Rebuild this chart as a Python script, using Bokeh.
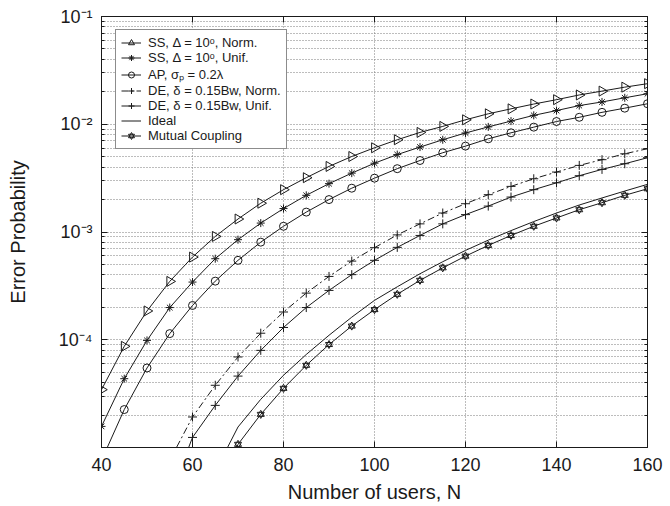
import numpy as np
from bokeh.plotting import figure
from bokeh.models import (FixedTicker, LogAxis, LinearAxis, Legend, LegendItem,
                          Range1d, CustomJSTickFormatter)
from bokeh.embed import file_html
from bokeh.resources import INLINE

# ---------------- data ----------------
users = [40, 45, 50, 55, 60, 65, 70, 75, 80, 85, 90, 95, 100,
         105, 110, 115, 120, 125, 130, 135, 140, 145, 150, 155, 160]

ss_norm = [3.44e-5, 8.69e-5, 1.85e-4, 3.48e-4, 5.85e-4, 9.1e-4, 1.32e-3, 1.85e-3,
           2.47e-3, 3.19e-3, 4.06e-3, 5.02e-3, 6.05e-3, 7.18e-3, 8.4e-3, 9.55e-3,
           1.10e-2, 1.25e-2, 1.39e-2, 1.54e-2, 1.69e-2, 1.87e-2, 2.03e-2, 2.21e-2, 2.38e-2]

ss_unif = [1.57e-5, 4.35e-5, 9.86e-5, 1.99e-4, 3.43e-4, 5.65e-4, 8.49e-4, 1.21e-3,
           1.65e-3, 2.19e-3, 2.81e-3, 3.52e-3, 4.35e-3, 5.23e-3, 6.14e-3, 7.18e-3,
           8.3e-3, 9.45e-3, 1.07e-2, 1.21e-2, 1.34e-2, 1.49e-2, 1.61e-2, 1.76e-2, 1.92e-2]

ap = [7.6e-6, 2.25e-5, 5.47e-5, 1.14e-4, 2.08e-4, 3.50e-4, 5.46e-4, 8.05e-4,
      1.13e-3, 1.53e-3, 2.0e-3, 2.55e-3, 3.16e-3, 3.87e-3, 4.61e-3, 5.44e-3,
      6.27e-3, 7.33e-3, 8.33e-3, 9.40e-3, 1.06e-2, 1.16e-2, 1.29e-2, 1.41e-2, 1.55e-2]

users_de = [55, 60, 65, 70, 75, 80, 85, 90, 95, 100, 105, 110, 115,
            120, 125, 130, 135, 140, 145, 150, 155, 160]

de_norm = [7.6e-6, 1.92e-5, 3.78e-5, 6.92e-5, 1.15e-4, 1.81e-4, 2.71e-4, 3.87e-4,
           5.37e-4, 7.15e-4, 9.4e-4, 1.19e-3, 1.50e-3, 1.83e-3, 2.22e-3, 2.65e-3,
           3.12e-3, 3.60e-3, 4.15e-3, 4.69e-3, 5.32e-3, 5.93e-3]

de_unif = [3.5e-6, 1.24e-5, 2.46e-5, 4.60e-5, 7.97e-5, 1.30e-4, 1.99e-4, 2.87e-4,
           4.02e-4, 5.46e-4, 7.2e-4, 9.29e-4, 1.19e-3, 1.45e-3, 1.74e-3, 2.11e-3,
           2.47e-3, 2.86e-3, 3.33e-3, 3.81e-3, 4.30e-3, 4.89e-3]

users_mc = [65, 70, 75, 80, 85, 90, 95, 100, 105, 110, 115, 120,
            125, 130, 135, 140, 145, 150, 155, 160]

ideal = [6.0e-6, 1.55e-5, 2.8e-5, 4.68e-5, 7.3e-5, 1.10e-4, 1.62e-4, 2.32e-4,
         3.1e-4, 4.1e-4, 5.3e-4, 6.75e-4, 8.4e-4, 1.03e-3, 1.25e-3, 1.5e-3,
         1.78e-3, 2.07e-3, 2.4e-3, 2.77e-3]

mutual = [3.4e-6, 1.07e-5, 2.03e-5, 3.54e-5, 5.79e-5, 9.03e-5, 1.34e-4, 1.905e-4,
          2.64e-4, 3.56e-4, 4.65e-4, 5.97e-4, 7.51e-4, 9.29e-4, 1.13e-3, 1.35e-3,
          1.61e-3, 1.87e-3, 2.19e-3, 2.52e-3]

labels = ["SS, \u0394 = 10\u1d52, Norm.",
          "SS, \u0394 = 10\u1d52, Unif.",
          "AP, \u03c3\u209a = 0.2\u03bb",
          "DE, \u03b4 = 0.15Bw, Norm.",
          "DE, \u03b4 = 0.15Bw, Unif.",
          "Ideal",
          "Mutual Coupling"]

x_ticks = [40, 60, 80, 100, 120, 140, 160]
y_ticks = [1e-4, 1e-3, 1e-2, 1e-1]
y_tick_labels = ["10\u207b\u2074", "10\u207b\u00b3", "10\u207b\u00b2", "10\u207b\u00b9"]

Y_MIN, Y_MAX = 1e-5, 1e-1

# ---------------- figure ----------------
FONT = "Liberation Sans"
INK = "#1a1a1a"
GRID = "#7a7a7a"

minor = [m * 10.0 ** e for e in range(-5, -1) for m in range(2, 10)]

p = figure(frame_width=546, frame_height=431,
           x_range=Range1d(40, 160), y_range=Range1d(Y_MIN, Y_MAX),
           y_axis_type="log", output_backend="svg", toolbar_location=None,
           min_border_left=101, min_border_right=23, min_border_top=16,
           min_border_bottom=59)
p.background_fill_color = "white"
p.border_fill_color = "white"
p.outline_line_color = INK
p.outline_line_width = 1

xt = FixedTicker(ticks=x_ticks, minor_ticks=[])
yt = FixedTicker(ticks=y_ticks, minor_ticks=minor)

p.xaxis.ticker = xt
p.yaxis.ticker = yt
p.yaxis.major_label_overrides = {v: s for v, s in zip(y_ticks, y_tick_labels)}

for ax in (p.xaxis[0], p.yaxis[0]):
    ax.axis_line_color = INK
    ax.major_tick_line_color = INK
    ax.minor_tick_line_color = INK
    ax.major_tick_in = 6
    ax.major_tick_out = 0
    ax.minor_tick_in = 3
    ax.minor_tick_out = 0
    ax.major_label_text_font = FONT
    ax.major_label_text_font_size = "18px"
    ax.major_label_text_color = INK
    ax.axis_label_text_font = FONT
    ax.axis_label_text_font_size = "20px"
    ax.axis_label_text_font_style = "normal"
    ax.axis_label_text_color = INK

p.xaxis.axis_label = "Number of users, N"
p.xaxis.major_label_standoff = 10
p.xaxis.axis_label_standoff = 7
p.yaxis.axis_label = "Error Probability"
p.yaxis.major_label_standoff = 9
p.yaxis.axis_label_standoff = 27

blank = CustomJSTickFormatter(code="return ''")
top = LinearAxis(ticker=xt, formatter=blank, major_tick_in=6, major_tick_out=0,
                 minor_tick_in=0, minor_tick_out=0, major_label_standoff=0,
                 axis_line_color=INK, major_tick_line_color=INK)
right = LogAxis(ticker=yt, formatter=blank, major_tick_in=6, major_tick_out=0,
                minor_tick_in=3, minor_tick_out=0, major_label_standoff=0,
                axis_line_color=INK, major_tick_line_color=INK,
                minor_tick_line_color=INK)
p.add_layout(top, "above")
p.add_layout(right, "right")

for g in (p.xgrid[0], p.ygrid[0]):
    g.grid_line_color = GRID
    g.grid_line_dash = "1 2"
    g.grid_line_width = 1
p.ygrid.minor_grid_line_color = GRID
p.ygrid.minor_grid_line_dash = "1 2"
p.ygrid.minor_grid_line_width = 1


def inrange(xs, ys):
    xs = np.asarray(xs, float)
    ys = np.asarray(ys, float)
    m = ys >= Y_MIN
    return xs[m], ys[m]


LW = 1
items = []

# SS Norm - right-pointing triangles
l1 = p.line(users, ss_norm, line_color=INK, line_width=LW)
mx, my = inrange(users, ss_norm)
m1 = p.scatter(mx, my, marker="triangle", angle=-np.pi / 2, size=10,
               line_color=INK, fill_color=None, line_width=1)
items.append(LegendItem(label=labels[0], renderers=[l1, m1]))

# SS Unif - asterisks
l2 = p.line(users, ss_unif, line_color=INK, line_width=LW)
mx, my = inrange(users, ss_unif)
m2 = p.scatter(mx, my, marker="asterisk", size=8, line_color=INK, line_width=1)
items.append(LegendItem(label=labels[1], renderers=[l2, m2]))

# AP - circles
l3 = p.line(users, ap, line_color=INK, line_width=LW)
mx, my = inrange(users, ap)
m3 = p.scatter(mx, my, marker="circle", size=8, line_color=INK,
               fill_color=None, line_width=1)
items.append(LegendItem(label=labels[2], renderers=[l3, m3]))

# DE Norm - plus, dash-dot
l4 = p.line(users_de, de_norm, line_color=INK, line_width=LW, line_dash="7 3 2 3")
mx, my = inrange(users_de, de_norm)
m4 = p.scatter(mx, my, marker="cross", size=9, line_color=INK, line_width=1)
items.append(LegendItem(label=labels[3], renderers=[l4, m4]))

# DE Unif - plus, solid
l5 = p.line(users_de, de_unif, line_color=INK, line_width=LW)
mx, my = inrange(users_de, de_unif)
m5 = p.scatter(mx, my, marker="cross", size=9, line_color=INK, line_width=1)
items.append(LegendItem(label=labels[4], renderers=[l5, m5]))

# Ideal - solid line only
l6 = p.line(users_mc, ideal, line_color=INK, line_width=LW)
items.append(LegendItem(label=labels[5], renderers=[l6]))

# Mutual coupling - hexagram
l7 = p.line(users_mc, mutual, line_color=INK, line_width=LW)
mx, my = inrange(users_mc, mutual)
m7a = p.scatter(mx, my, marker="triangle", size=7, line_color=INK,
                fill_color=None, line_width=1)
m7b = p.scatter(mx, my, marker="inverted_triangle", size=7, line_color=INK,
                fill_color=None, line_width=1)
items.append(LegendItem(label=labels[6], renderers=[l7, m7a, m7b]))

legend = Legend(items=items, location=(14, 298))
legend.border_line_color = INK
legend.border_line_width = 1
legend.background_fill_color = "white"
legend.background_fill_alpha = 1.0
legend.label_text_font = FONT
legend.label_text_font_size = "13px"
legend.label_text_color = INK
legend.glyph_width = 20
legend.glyph_height = 15
legend.label_height = 15
legend.spacing = 0
legend.padding = 5
legend.margin = 0
legend.label_standoff = 7
p.add_layout(legend)

open("out.html", "w").write(file_html(p, INLINE))
